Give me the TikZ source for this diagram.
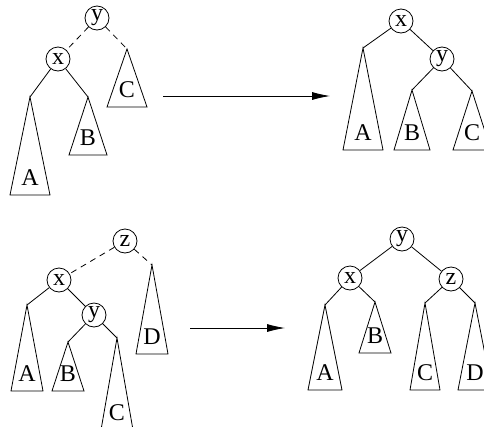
\documentclass[tikz,border=0pt]{standalone}
\usepackage{fontspec}
\setmainfont{Liberation Serif}
\usetikzlibrary{arrows.meta,calc}

% a subtree: apex name, apex point, half base width, height, label
\newcommand{\subtree}[5]{%
  \coordinate (#1) at #2;
  \draw[edge] (#1) -- ++(-#3,#4) -- ++(2*#3,0) -- cycle;
  \node[lbl] (#1-l) at ($(#1)+(0,#4-17)$) {#5};
}

\begin{document}
\begin{tikzpicture}[x=1pt,y=-1pt,
  key/.style={circle,draw,line width=0.8pt,minimum size=24pt,inner sep=0pt,
              font=\fontsize{24}{24}\selectfont},
  lbl/.style={inner sep=0pt,font=\fontsize{24}{24}\selectfont},
  edge/.style={line width=0.8pt},
  rot/.style={draw,line width=0.8pt,dash pattern=on 6pt off 5pt},
  move/.style={draw,line width=0.8pt,-{Latex[length=18pt,width=8pt]}}]
\path[use as bounding box,clip] (0,0) rectangle (484,426);

% single rotation, before
\node[key] (y1) at (97,18) {y};
\node[key] (x1) at (58,59) {x};
\subtree{a1}{(30,97)}{20}{98}{A}
\subtree{b1}{(88,97)}{19}{58}{B}
\subtree{c1}{(127,49)}{20}{58}{C}
\path[rot] (y1) -- (x1);
\path[rot] (y1) -- (c1);
\draw[edge] (x1) -- (a1);
\draw[edge] (x1) -- (b1);

% single rotation, after
\node[key] (x2) at (401,21) {x};
\node[key] (y2) at (442,59) {y};
\subtree{a2}{(363,48)}{20}{102}{A}
\subtree{b2}{(412,90)}{18}{60}{B}
\subtree{c2}{(472,91)}{19}{59}{C}
\draw[edge] (x2) -- (a2);
\draw[edge] (x2) -- (y2);
\draw[edge] (y2) -- (b2);
\draw[edge] (y2) -- (c2);

\coordinate (s1) at (163,96);
\coordinate (t1) at (330,96);
\path[move] (s1) -- (t1);

% double rotation, before
\node[key] (z3) at (125,241) {z};
\node[key] (x3) at (59,280) {x};
\node[key] (y3) at (94,315) {y};
\subtree{a3}{(27,305)}{16}{86}{A}
\subtree{b3}{(68,342)}{16}{49}{B}
\subtree{c3}{(117,338)}{16}{92}{C}
\subtree{d3}{(152,265)}{16}{89}{D}
\path[rot] (z3) -- (x3);
\path[rot] (z3) -- (d3);
\draw[edge] (x3) -- (a3);
\draw[edge] (x3) -- (y3);
\draw[edge] (y3) -- (b3);
\draw[edge] (y3) -- (c3);

% double rotation, after
\node[key] (y4) at (402,239) {y};
\node[key] (x4) at (350,278) {x};
\node[key] (z4) at (451,279) {z};
\subtree{a4}{(325,305)}{17}{85}{A}
\subtree{b4}{(375,302)}{16}{51}{B}
\subtree{c4}{(425,303)}{15}{87}{C}
\subtree{d4}{(475,303)}{17}{87}{D}
\draw[edge] (y4) -- (x4);
\draw[edge] (y4) -- (z4);
\draw[edge] (x4) -- (a4);
\draw[edge] (x4) -- (b4);
\draw[edge] (z4) -- (c4);
\draw[edge] (z4) -- (d4);

\coordinate (s2) at (190,328);
\coordinate (t2) at (285,328);
\path[move] (s2) -- (t2);
\end{tikzpicture}
\end{document}
